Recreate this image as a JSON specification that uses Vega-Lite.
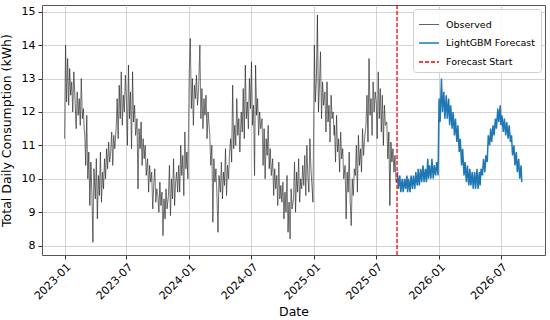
{
  "$schema": "https://vega.github.io/schema/vega-lite/v6.json",
  "width": 503,
  "height": 250,
  "autosize": {"type": "none"},
  "padding": {"left": 42, "top": 5, "right": 5, "bottom": 65},
  "background": "white",
  "config": {
    "font": "DejaVu Sans",
    "view": {"stroke": "#555", "strokeWidth": 1},
    "axis": {
      "labelFont": "DejaVu Sans", "titleFont": "DejaVu Sans",
      "labelFontSize": 11, "titleFontSize": 12.5, "titleFontWeight": "normal",
      "labelColor": "#000", "titleColor": "#000",
      "tickColor": "#333", "tickSize": 4, "domain": false,
      "grid": true, "gridColor": "#c8c8c8", "gridWidth": 0.8
    }
  },
  "datasets": {
    "obs": [
      {"d":"2023-01-01","v":11.2},{"d":"2023-01-04","v":14.0},{"d":"2023-01-07","v":12.3},{"d":"2023-01-10","v":13.6},{"d":"2023-01-13","v":12.2},{"d":"2023-01-16","v":13.3},{"d":"2023-01-19","v":12.5},{"d":"2023-01-22","v":12.9},{"d":"2023-01-25","v":12.0},{"d":"2023-01-28","v":13.2},
      {"d":"2023-02-01","v":12.3},{"d":"2023-02-04","v":11.5},{"d":"2023-02-07","v":12.6},{"d":"2023-02-10","v":11.9},{"d":"2023-02-13","v":12.4},{"d":"2023-02-16","v":11.6},{"d":"2023-02-19","v":13.0},{"d":"2023-02-22","v":11.8},{"d":"2023-02-25","v":12.1},{"d":"2023-02-28","v":11.4},
      {"d":"2023-03-01","v":11.4},{"d":"2023-03-04","v":10.4},{"d":"2023-03-07","v":11.9},{"d":"2023-03-10","v":10.0},{"d":"2023-03-13","v":10.8},{"d":"2023-03-16","v":9.2},{"d":"2023-03-19","v":10.5},{"d":"2023-03-22","v":9.6},{"d":"2023-03-25","v":8.1},{"d":"2023-03-28","v":10.3},
      {"d":"2023-04-01","v":9.4},{"d":"2023-04-04","v":10.6},{"d":"2023-04-07","v":8.8},{"d":"2023-04-10","v":10.1},{"d":"2023-04-13","v":9.5},{"d":"2023-04-16","v":10.8},{"d":"2023-04-19","v":9.3},{"d":"2023-04-22","v":10.2},{"d":"2023-04-25","v":9.7},{"d":"2023-04-28","v":10.6},
      {"d":"2023-05-01","v":10.0},{"d":"2023-05-04","v":10.9},{"d":"2023-05-07","v":10.3},{"d":"2023-05-10","v":11.1},{"d":"2023-05-13","v":10.5},{"d":"2023-05-16","v":10.8},{"d":"2023-05-19","v":11.4},{"d":"2023-05-22","v":10.4},{"d":"2023-05-25","v":11.3},{"d":"2023-05-28","v":10.9},
      {"d":"2023-06-01","v":11.5},{"d":"2023-06-04","v":12.4},{"d":"2023-06-07","v":11.2},{"d":"2023-06-10","v":12.8},{"d":"2023-06-13","v":11.8},{"d":"2023-06-16","v":13.2},{"d":"2023-06-19","v":11.6},{"d":"2023-06-22","v":12.5},{"d":"2023-06-25","v":12.0},{"d":"2023-06-28","v":13.1},
      {"d":"2023-07-01","v":12.4},{"d":"2023-07-04","v":11.0},{"d":"2023-07-07","v":13.4},{"d":"2023-07-10","v":11.8},{"d":"2023-07-13","v":12.6},{"d":"2023-07-16","v":10.9},{"d":"2023-07-19","v":13.2},{"d":"2023-07-22","v":11.7},{"d":"2023-07-25","v":12.2},{"d":"2023-07-28","v":11.3},
      {"d":"2023-08-01","v":11.8},{"d":"2023-08-04","v":9.7},{"d":"2023-08-07","v":11.5},{"d":"2023-08-10","v":10.9},{"d":"2023-08-13","v":11.7},{"d":"2023-08-16","v":10.4},{"d":"2023-08-19","v":11.2},{"d":"2023-08-22","v":10.6},{"d":"2023-08-25","v":11.0},{"d":"2023-08-28","v":10.1},
      {"d":"2023-09-01","v":10.6},{"d":"2023-09-04","v":9.6},{"d":"2023-09-07","v":10.4},{"d":"2023-09-10","v":9.9},{"d":"2023-09-13","v":10.2},{"d":"2023-09-16","v":9.1},{"d":"2023-09-19","v":9.8},{"d":"2023-09-22","v":10.3},{"d":"2023-09-25","v":9.3},{"d":"2023-09-28","v":9.7},
      {"d":"2023-10-01","v":9.5},{"d":"2023-10-04","v":9.0},{"d":"2023-10-07","v":9.9},{"d":"2023-10-10","v":9.2},{"d":"2023-10-13","v":9.6},{"d":"2023-10-16","v":8.3},{"d":"2023-10-19","v":9.4},{"d":"2023-10-22","v":8.8},{"d":"2023-10-25","v":9.7},{"d":"2023-10-28","v":9.1},
      {"d":"2023-11-01","v":9.5},{"d":"2023-11-04","v":10.4},{"d":"2023-11-07","v":8.9},{"d":"2023-11-10","v":10.0},{"d":"2023-11-13","v":9.4},{"d":"2023-11-16","v":10.6},{"d":"2023-11-19","v":9.2},{"d":"2023-11-22","v":9.9},{"d":"2023-11-25","v":10.2},{"d":"2023-11-28","v":9.6},
      {"d":"2023-12-01","v":10.4},{"d":"2023-12-04","v":9.6},{"d":"2023-12-07","v":11.0},{"d":"2023-12-10","v":10.1},{"d":"2023-12-13","v":10.7},{"d":"2023-12-16","v":9.5},{"d":"2023-12-19","v":11.4},{"d":"2023-12-22","v":10.3},{"d":"2023-12-25","v":10.8},{"d":"2023-12-28","v":10.0},
      {"d":"2024-01-01","v":13.2},{"d":"2024-01-04","v":14.2},{"d":"2024-01-07","v":12.1},{"d":"2024-01-10","v":13.0},{"d":"2024-01-13","v":11.6},{"d":"2024-01-16","v":12.8},{"d":"2024-01-19","v":12.4},{"d":"2024-01-22","v":13.1},{"d":"2024-01-25","v":12.2},{"d":"2024-01-28","v":12.6},
      {"d":"2024-02-01","v":14.0},{"d":"2024-02-04","v":11.8},{"d":"2024-02-07","v":12.7},{"d":"2024-02-10","v":11.5},{"d":"2024-02-13","v":12.4},{"d":"2024-02-16","v":11.9},{"d":"2024-02-19","v":12.5},{"d":"2024-02-22","v":11.2},{"d":"2024-02-25","v":12.0},{"d":"2024-02-28","v":11.6},
      {"d":"2024-03-01","v":11.3},{"d":"2024-03-04","v":10.4},{"d":"2024-03-07","v":11.0},{"d":"2024-03-10","v":8.7},{"d":"2024-03-13","v":10.6},{"d":"2024-03-16","v":9.9},{"d":"2024-03-19","v":10.3},{"d":"2024-03-22","v":9.5},{"d":"2024-03-25","v":8.4},{"d":"2024-03-28","v":10.1},
      {"d":"2024-04-01","v":9.6},{"d":"2024-04-04","v":10.5},{"d":"2024-04-07","v":9.4},{"d":"2024-04-10","v":10.2},{"d":"2024-04-13","v":9.8},{"d":"2024-04-16","v":10.9},{"d":"2024-04-19","v":9.5},{"d":"2024-04-22","v":10.4},{"d":"2024-04-25","v":10.0},{"d":"2024-04-28","v":10.8},
      {"d":"2024-05-01","v":11.2},{"d":"2024-05-04","v":10.5},{"d":"2024-05-07","v":12.8},{"d":"2024-05-10","v":10.9},{"d":"2024-05-13","v":11.6},{"d":"2024-05-16","v":11.0},{"d":"2024-05-19","v":12.4},{"d":"2024-05-22","v":11.3},{"d":"2024-05-25","v":11.8},{"d":"2024-05-28","v":10.8},
      {"d":"2024-06-01","v":12.0},{"d":"2024-06-04","v":11.4},{"d":"2024-06-07","v":12.7},{"d":"2024-06-10","v":11.2},{"d":"2024-06-13","v":13.4},{"d":"2024-06-16","v":11.8},{"d":"2024-06-19","v":12.3},{"d":"2024-06-22","v":11.5},{"d":"2024-06-25","v":13.0},{"d":"2024-06-28","v":12.1},
      {"d":"2024-07-01","v":13.5},{"d":"2024-07-04","v":11.6},{"d":"2024-07-07","v":12.2},{"d":"2024-07-10","v":10.1},{"d":"2024-07-13","v":13.4},{"d":"2024-07-16","v":11.9},{"d":"2024-07-19","v":12.4},{"d":"2024-07-22","v":11.3},{"d":"2024-07-25","v":12.0},{"d":"2024-07-28","v":11.5},
      {"d":"2024-08-01","v":11.8},{"d":"2024-08-04","v":10.4},{"d":"2024-08-07","v":11.5},{"d":"2024-08-10","v":10.0},{"d":"2024-08-13","v":11.2},{"d":"2024-08-16","v":10.7},{"d":"2024-08-19","v":11.6},{"d":"2024-08-22","v":10.3},{"d":"2024-08-25","v":10.9},{"d":"2024-08-28","v":10.1},
      {"d":"2024-09-01","v":10.6},{"d":"2024-09-04","v":9.5},{"d":"2024-09-07","v":10.3},{"d":"2024-09-10","v":9.7},{"d":"2024-09-13","v":10.1},{"d":"2024-09-16","v":9.2},{"d":"2024-09-19","v":10.5},{"d":"2024-09-22","v":9.4},{"d":"2024-09-25","v":9.8},{"d":"2024-09-28","v":9.3},
      {"d":"2024-10-01","v":9.9},{"d":"2024-10-04","v":8.8},{"d":"2024-10-07","v":9.6},{"d":"2024-10-10","v":9.0},{"d":"2024-10-13","v":10.1},{"d":"2024-10-16","v":8.4},{"d":"2024-10-19","v":9.3},{"d":"2024-10-22","v":8.2},{"d":"2024-10-25","v":9.7},{"d":"2024-10-28","v":9.1},
      {"d":"2024-11-01","v":9.4},{"d":"2024-11-04","v":10.5},{"d":"2024-11-07","v":9.0},{"d":"2024-11-10","v":10.2},{"d":"2024-11-13","v":9.6},{"d":"2024-11-16","v":10.6},{"d":"2024-11-19","v":9.3},{"d":"2024-11-22","v":10.0},{"d":"2024-11-25","v":9.7},{"d":"2024-11-28","v":10.4},
      {"d":"2024-12-01","v":9.8},{"d":"2024-12-04","v":10.7},{"d":"2024-12-07","v":9.5},{"d":"2024-12-10","v":11.0},{"d":"2024-12-13","v":10.1},{"d":"2024-12-16","v":9.6},{"d":"2024-12-19","v":11.2},{"d":"2024-12-22","v":10.3},{"d":"2024-12-25","v":9.8},{"d":"2024-12-28","v":9.3},
      {"d":"2025-01-01","v":14.0},{"d":"2025-01-04","v":12.3},{"d":"2025-01-07","v":13.0},{"d":"2025-01-10","v":14.9},{"d":"2025-01-13","v":12.0},{"d":"2025-01-16","v":12.8},{"d":"2025-01-19","v":13.8},{"d":"2025-01-22","v":11.8},{"d":"2025-01-25","v":12.9},{"d":"2025-01-28","v":12.2},
      {"d":"2025-02-01","v":12.6},{"d":"2025-02-04","v":11.4},{"d":"2025-02-07","v":12.9},{"d":"2025-02-10","v":11.7},{"d":"2025-02-13","v":12.2},{"d":"2025-02-16","v":11.1},{"d":"2025-02-19","v":12.5},{"d":"2025-02-22","v":11.8},{"d":"2025-02-25","v":12.0},{"d":"2025-02-28","v":11.3},
      {"d":"2025-03-01","v":11.6},{"d":"2025-03-04","v":10.5},{"d":"2025-03-07","v":11.9},{"d":"2025-03-10","v":10.8},{"d":"2025-03-13","v":11.2},{"d":"2025-03-16","v":10.2},{"d":"2025-03-19","v":11.4},{"d":"2025-03-22","v":10.6},{"d":"2025-03-25","v":10.9},{"d":"2025-03-28","v":10.0},
      {"d":"2025-04-01","v":10.4},{"d":"2025-04-04","v":8.8},{"d":"2025-04-07","v":10.2},{"d":"2025-04-10","v":9.6},{"d":"2025-04-13","v":10.8},{"d":"2025-04-16","v":9.3},{"d":"2025-04-19","v":8.6},{"d":"2025-04-22","v":10.0},{"d":"2025-04-25","v":9.5},{"d":"2025-04-28","v":10.3},
      {"d":"2025-05-01","v":10.1},{"d":"2025-05-04","v":11.0},{"d":"2025-05-07","v":9.6},{"d":"2025-05-10","v":11.3},{"d":"2025-05-13","v":10.4},{"d":"2025-05-16","v":10.9},{"d":"2025-05-19","v":10.2},{"d":"2025-05-22","v":11.5},{"d":"2025-05-25","v":10.7},{"d":"2025-05-28","v":11.2},
      {"d":"2025-06-01","v":11.6},{"d":"2025-06-04","v":12.5},{"d":"2025-06-07","v":11.1},{"d":"2025-06-10","v":13.6},{"d":"2025-06-13","v":11.9},{"d":"2025-06-16","v":12.4},{"d":"2025-06-19","v":11.3},{"d":"2025-06-22","v":12.9},{"d":"2025-06-25","v":12.0},{"d":"2025-06-28","v":12.6},
      {"d":"2025-07-01","v":12.3},{"d":"2025-07-04","v":11.2},{"d":"2025-07-07","v":13.2},{"d":"2025-07-10","v":11.8},{"d":"2025-07-13","v":12.7},{"d":"2025-07-16","v":11.4},{"d":"2025-07-19","v":12.5},{"d":"2025-07-22","v":11.0},{"d":"2025-07-25","v":12.2},{"d":"2025-07-28","v":11.6},
      {"d":"2025-08-01","v":11.7},{"d":"2025-08-04","v":10.6},{"d":"2025-08-07","v":11.4},{"d":"2025-08-10","v":9.2},{"d":"2025-08-13","v":11.1},{"d":"2025-08-16","v":10.5},{"d":"2025-08-19","v":10.9},{"d":"2025-08-22","v":10.2},{"d":"2025-08-25","v":10.7},{"d":"2025-08-28","v":9.9},{"d":"2025-08-31","v":10.0}
    ],
    "fc": [
      {"d":"2025-09-01","v":10.2},{"d":"2025-09-04","v":9.7},{"d":"2025-09-08","v":10.1},{"d":"2025-09-11","v":9.6},{"d":"2025-09-15","v":10.0},{"d":"2025-09-18","v":9.6},{"d":"2025-09-22","v":10.0},{"d":"2025-09-25","v":9.7},{"d":"2025-09-29","v":10.1},
      {"d":"2025-10-01","v":9.6},{"d":"2025-10-04","v":10.0},{"d":"2025-10-08","v":9.6},{"d":"2025-10-11","v":10.1},{"d":"2025-10-15","v":9.7},{"d":"2025-10-18","v":10.1},{"d":"2025-10-22","v":9.7},{"d":"2025-10-25","v":10.2},{"d":"2025-10-29","v":9.8},
      {"d":"2025-11-01","v":10.3},{"d":"2025-11-04","v":9.8},{"d":"2025-11-08","v":10.3},{"d":"2025-11-11","v":9.9},{"d":"2025-11-15","v":10.4},{"d":"2025-11-18","v":9.9},{"d":"2025-11-22","v":10.3},{"d":"2025-11-25","v":9.9},{"d":"2025-11-29","v":10.6},
      {"d":"2025-12-01","v":10.0},{"d":"2025-12-04","v":10.4},{"d":"2025-12-08","v":10.0},{"d":"2025-12-11","v":10.6},{"d":"2025-12-15","v":10.0},{"d":"2025-12-18","v":10.4},{"d":"2025-12-22","v":10.1},{"d":"2025-12-25","v":10.5},{"d":"2025-12-29","v":10.1},
      {"d":"2026-01-01","v":12.4},{"d":"2026-01-04","v":11.7},{"d":"2026-01-08","v":13.0},{"d":"2026-01-11","v":12.0},{"d":"2026-01-15","v":12.6},{"d":"2026-01-18","v":11.8},{"d":"2026-01-22","v":12.5},{"d":"2026-01-25","v":11.8},{"d":"2026-01-29","v":12.4},
      {"d":"2026-02-01","v":11.6},{"d":"2026-02-04","v":12.2},{"d":"2026-02-08","v":11.5},{"d":"2026-02-11","v":12.0},{"d":"2026-02-15","v":11.3},{"d":"2026-02-18","v":11.8},{"d":"2026-02-22","v":11.1},{"d":"2026-02-25","v":11.6},
      {"d":"2026-03-01","v":10.8},{"d":"2026-03-04","v":11.2},{"d":"2026-03-08","v":10.4},{"d":"2026-03-11","v":10.9},{"d":"2026-03-15","v":10.1},{"d":"2026-03-18","v":10.5},{"d":"2026-03-22","v":9.9},{"d":"2026-03-25","v":10.4},{"d":"2026-03-29","v":9.8},
      {"d":"2026-04-01","v":10.3},{"d":"2026-04-04","v":9.8},{"d":"2026-04-08","v":10.2},{"d":"2026-04-11","v":9.7},{"d":"2026-04-15","v":10.2},{"d":"2026-04-18","v":9.7},{"d":"2026-04-22","v":10.3},{"d":"2026-04-25","v":9.7},{"d":"2026-04-29","v":10.2},
      {"d":"2026-05-01","v":9.8},{"d":"2026-05-04","v":10.3},{"d":"2026-05-08","v":10.1},{"d":"2026-05-11","v":10.6},{"d":"2026-05-15","v":10.2},{"d":"2026-05-18","v":10.7},{"d":"2026-05-22","v":10.5},{"d":"2026-05-25","v":11.3},{"d":"2026-05-29","v":11.0},
      {"d":"2026-06-01","v":11.5},{"d":"2026-06-04","v":11.1},{"d":"2026-06-08","v":11.6},{"d":"2026-06-11","v":11.3},{"d":"2026-06-15","v":11.8},{"d":"2026-06-18","v":11.5},{"d":"2026-06-22","v":12.1},{"d":"2026-06-25","v":11.7},{"d":"2026-06-29","v":12.2},
      {"d":"2026-07-01","v":11.6},{"d":"2026-07-04","v":11.9},{"d":"2026-07-08","v":11.4},{"d":"2026-07-11","v":11.8},{"d":"2026-07-15","v":11.3},{"d":"2026-07-18","v":11.7},{"d":"2026-07-22","v":11.2},{"d":"2026-07-25","v":11.6},{"d":"2026-07-29","v":11.1},
      {"d":"2026-08-01","v":11.3},{"d":"2026-08-04","v":10.7},{"d":"2026-08-08","v":11.0},{"d":"2026-08-11","v":10.4},{"d":"2026-08-15","v":10.8},{"d":"2026-08-18","v":10.2},{"d":"2026-08-22","v":10.6},{"d":"2026-08-25","v":10.0},{"d":"2026-08-29","v":10.4},{"d":"2026-08-31","v":9.9}
    ],
    "start": [{"d":"2025-08-31"}]
  },
  "encoding": {
    "x": {
      "field": "d", "type": "temporal", "title": "Date",
      "scale": {"domain": [{"year": 2022, "month": 10, "date": 27}, {"year": 2026, "month": 11, "date": 7}]},
      "axis": {
        "values": [
          {"year": 2023, "month": 1, "date": 1}, {"year": 2023, "month": 7, "date": 1},
          {"year": 2024, "month": 1, "date": 1}, {"year": 2024, "month": 7, "date": 1},
          {"year": 2025, "month": 1, "date": 1}, {"year": 2025, "month": 7, "date": 1},
          {"year": 2026, "month": 1, "date": 1}, {"year": 2026, "month": 7, "date": 1}
        ],
        "format": "%Y-%m", "labelAngle": -45, "labelAlign": "right", "labelBaseline": "top",
        "labelPadding": 2, "titlePadding": 4
      }
    },
    "color": {
      "datum": "Observed",
      "scale": {"domain": ["Observed", "LightGBM Forecast", "Forecast Start"], "range": ["#222222", "#1f77b4", "#ff0000"]},
      "legend": {
        "title": null, "orient": "top-right", "offset": 4,
        "symbolType": "stroke", "symbolSize": 400,
        "labelFontSize": 9.5, "labelColor": "#000", "labelFont": "DejaVu Sans",
        "fillColor": "rgba(255,255,255,0.85)", "strokeColor": "#d0d0d0",
        "cornerRadius": 3, "padding": 5, "rowPadding": 3, "labelOffset": 6
      }
    },
    "strokeDash": {
      "datum": "Observed",
      "scale": {"domain": ["Observed", "LightGBM Forecast", "Forecast Start"], "range": [[1, 0], [1, 0], [4, 2]]}
    },
    "strokeWidth": {
      "datum": "Observed",
      "scale": {"type": "ordinal", "domain": ["Observed", "LightGBM Forecast", "Forecast Start"], "range": [0.7, 1.5, 1.3]}
    }
  },
  "layer": [
    {
      "data": {"name": "obs"},
      "mark": {"type": "line", "interpolate": "linear"},
      "encoding": {
        "y": {
          "field": "v", "type": "quantitative", "title": "Total Daily Consumption (kWh)",
          "scale": {"domain": [7.72, 15.2], "nice": false, "zero": false},
          "axis": {"values": [8, 9, 10, 11, 12, 13, 14, 15], "titlePadding": 8, "labelPadding": 3}
        }
      }
    },
    {
      "data": {"name": "fc"},
      "mark": {"type": "line"},
      "encoding": {
        "y": {
          "field": "v", "type": "quantitative", "title": "Total Daily Consumption (kWh)",
          "scale": {"domain": [7.72, 15.2], "nice": false, "zero": false},
          "axis": {"values": [8, 9, 10, 11, 12, 13, 14, 15], "titlePadding": 8, "labelPadding": 3}
        },
        "color": {"datum": "LightGBM Forecast"},
        "strokeDash": {"datum": "LightGBM Forecast"},
        "strokeWidth": {"datum": "LightGBM Forecast"}
      }
    },
    {
      "data": {"name": "start"},
      "mark": {"type": "rule"},
      "encoding": {
        "color": {"datum": "Forecast Start"},
        "strokeDash": {"datum": "Forecast Start"},
        "strokeWidth": {"datum": "Forecast Start"}
      }
    }
  ]
}
